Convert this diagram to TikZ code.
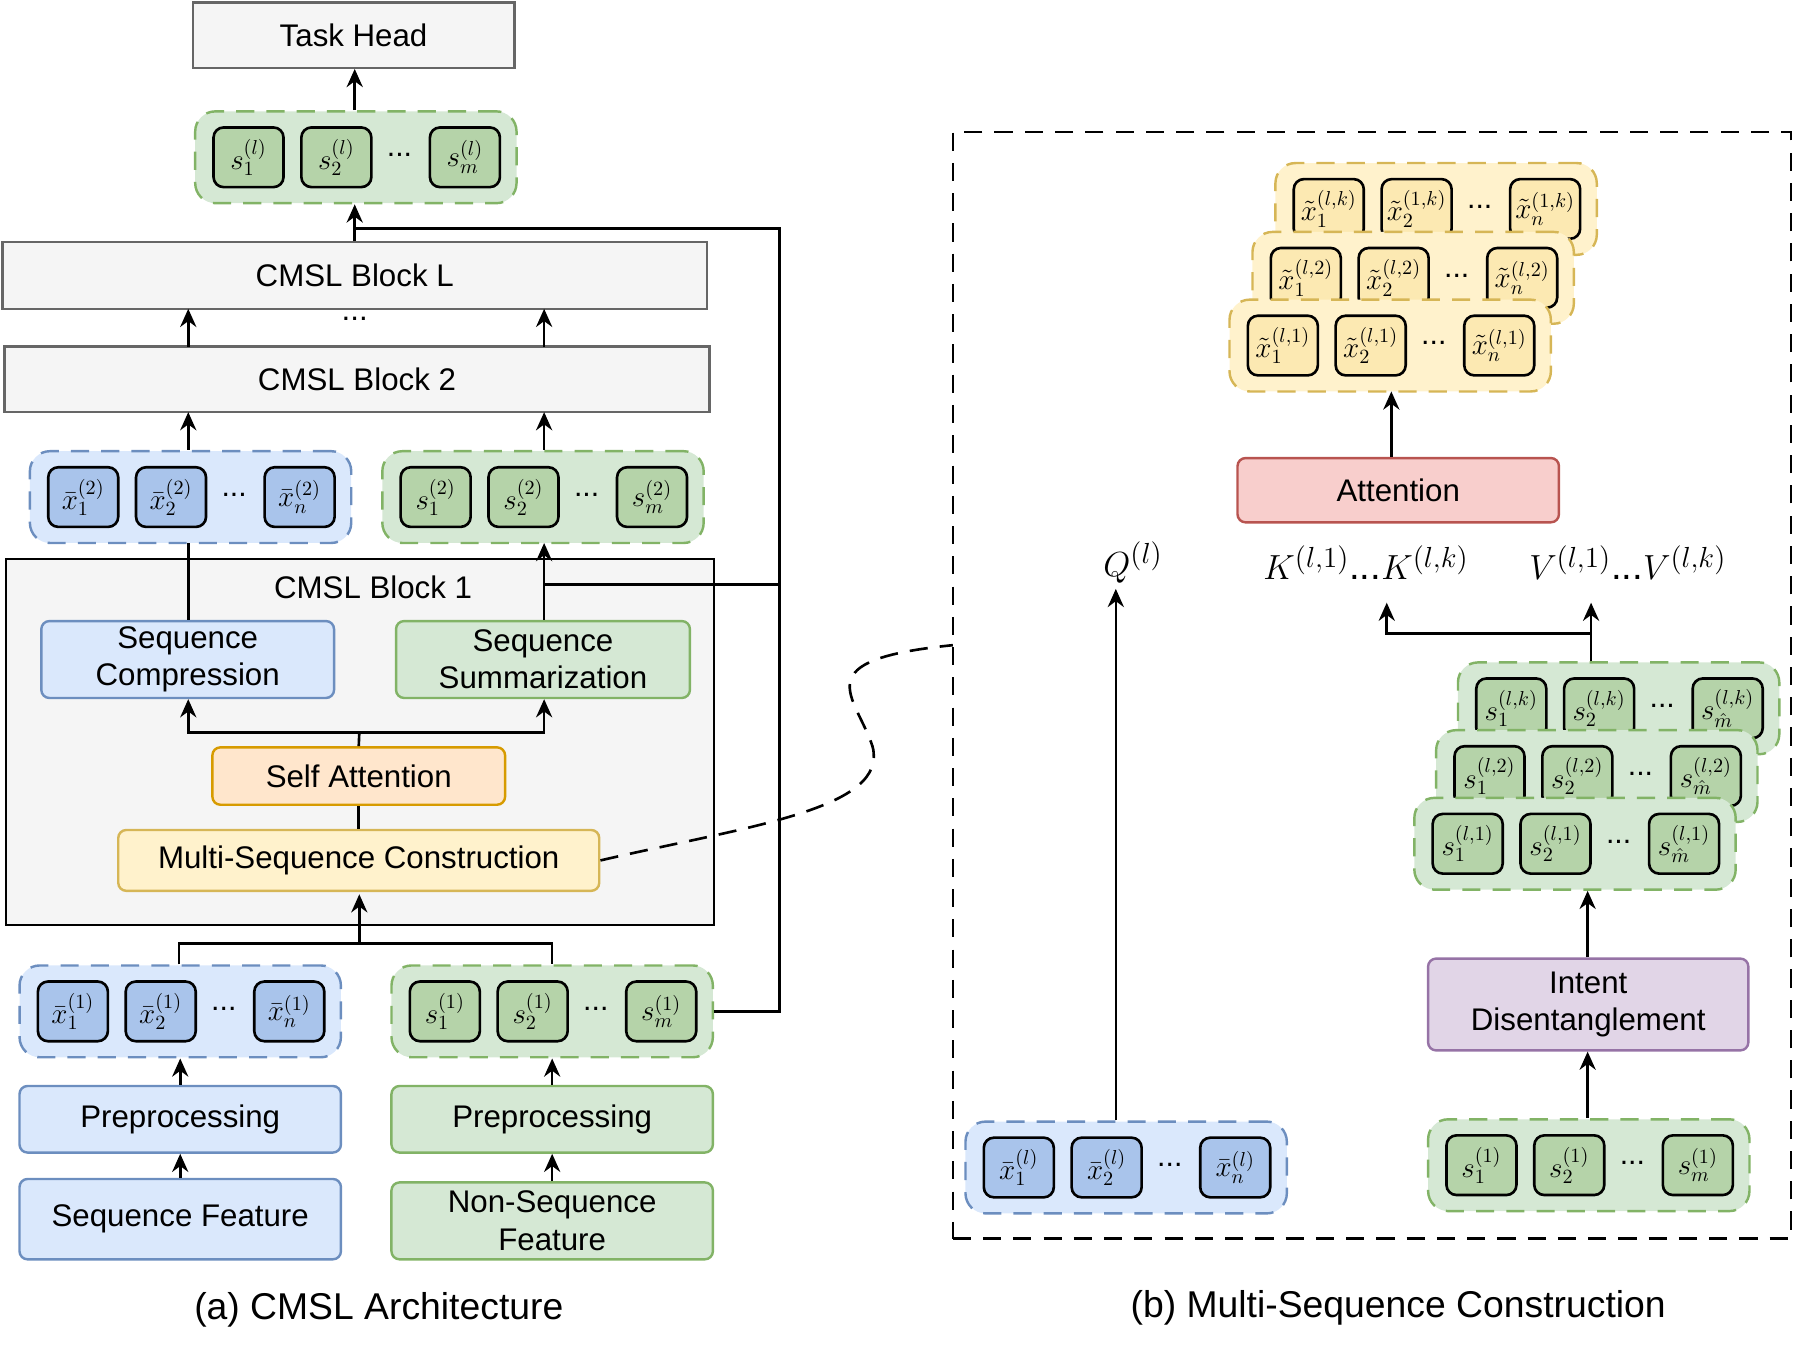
\documentclass[tikz,border=0pt]{standalone}
\usepackage{fontspec}
\setmainfont{Liberation Sans}
\usetikzlibrary{arrows.meta}
\definecolor{gfill}{HTML}{F5F5F5}\definecolor{gdraw}{HTML}{666666}
\definecolor{bfill}{HTML}{DAE8FC}\definecolor{bdraw}{HTML}{6C8EBF}\definecolor{bin}{HTML}{A9C4EB}
\definecolor{grfill}{HTML}{D5E8D4}\definecolor{grdraw}{HTML}{82B366}\definecolor{grin}{HTML}{B5D3A9}
\definecolor{yfill}{HTML}{FFF2CC}\definecolor{ydraw}{HTML}{D6B656}\definecolor{yin}{HTML}{FCE9B2}
\definecolor{ofill}{HTML}{FFE6CC}\definecolor{odraw}{HTML}{D79B00}
\definecolor{rfill}{HTML}{F8CECC}\definecolor{rdraw}{HTML}{B85450}
\definecolor{pfill}{HTML}{E1D5E7}\definecolor{pdraw}{HTML}{9673A6}
\tikzset{
 txt/.style={font=\fontsize{15.5}{18.5}\selectfont, align=center, inner sep=0pt},
 plain/.style={txt, draw=gdraw, fill=gfill, line width=1.2pt},
 bl/.style={txt, draw=bdraw, fill=bfill, line width=1.2pt, rounded corners=4pt},
 gr/.style={txt, draw=grdraw, fill=grfill, line width=1.2pt, rounded corners=4pt},
 ye/.style={txt, draw=ydraw, fill=yfill, line width=1.2pt, rounded corners=4pt},
 ora/.style={txt, draw=odraw, fill=ofill, line width=1.2pt, rounded corners=4pt},
 red/.style={txt, draw=rdraw, fill=rfill, line width=1.2pt, rounded corners=4pt},
 pur/.style={txt, draw=pdraw, fill=pfill, line width=1.2pt, rounded corners=4pt},
 gB/.style={draw=bdraw, fill=bfill, dashed, dash pattern=on 9pt off 6pt, line width=1.2pt, rounded corners=10pt},
 gG/.style={draw=grdraw, fill=grfill, dashed, dash pattern=on 9pt off 6pt, line width=1.2pt, rounded corners=10pt},
 gY/.style={draw=ydraw, fill=yfill, dashed, dash pattern=on 9pt off 6pt, line width=1.2pt, rounded corners=10pt},
 iB/.style={draw=black, fill=bin, line width=1.3pt, rounded corners=5pt, minimum width=1.22cm, minimum height=1.04cm, inner sep=0pt, font=\fontsize{14}{16}\selectfont},
 iG/.style={iB, fill=grin},
 iY/.style={iB, fill=yin},
 arr/.style={line width=1.3pt, -{Stealth[length=9pt,width=8pt]}},
 ln/.style={line width=1.3pt},
 captxt/.style={font=\fontsize{18.5}{22}\selectfont, inner sep=0pt},
 qkv/.style={inner sep=0pt, font=\fontsize{19}{22}\selectfont},
}
\newcommand\bx[7]{\node[#6, minimum width={(#4-#2)*0.02cm}, minimum height={(#5-#3)*0.02cm}] (#1) at ({(#2+#4)/2},{(#3+#5)/2}) {#7};}
\newcommand\grp[8]{%
 \node[#4, minimum width=5.6cm, minimum height=1.6cm, inner sep=0pt] (#1) at ({#2+140},{#3+40}) {};
 \node[#5] (#1a) at ({#2+46.5},{#3+40}) {$#6$};
 \node[#5] (#1b) at ({#2+123},{#3+40}) {$#7$};
 \node[font=\fontsize{15}{18}\selectfont] (#1d) at ({#2+178},{#3+38}) {...};
 \node[#5] (#1c) at ({#2+235},{#3+40}) {$#8$};}
\begin{document}
\begin{tikzpicture}[x=0.02cm,y=-0.02cm]
\useasboundingbox (0,0) rectangle (1568,1178);
% ---------- left ----------
\bx{th}{168}{2}{448}{59}{plain}{Task Head}
\grp{gtop}{170}{97}{gG}{iG}{s_1^{(l)}}{s_2^{(l)}}{s_m^{(l)}}
\bx{bL}{2}{211}{616}{269}{plain}{CMSL Block L}
\node[txt] (vd) at (309,278) {...};
\bx{b2}{4}{302}{618}{359}{plain}{CMSL Block 2}
\grp{bg2}{26}{393}{gB}{iB}{\bar x_1^{(2)}}{\bar x_2^{(2)}}{\bar x_n^{(2)}}
\grp{gg2}{333}{393}{gG}{iG}{s_1^{(2)}}{s_2^{(2)}}{s_m^{(2)}}
\node[draw=black, fill=gfill, line width=1.2pt, minimum width={617*0.02cm}, minimum height={319*0.02cm}] (b1) at (313.5,646.5) {};
\node[txt] (b1t) at (325,512) {CMSL Block 1};
\bx{sc}{36}{541}{291}{608}{bl}{Sequence\\Compression}
\bx{ss}{345}{541}{601}{608}{gr}{Sequence\\Summarization}
\bx{sa}{185}{651}{440}{701}{ora}{Self Attention}
\bx{msc}{103}{723}{522}{776}{ye}{Multi-Sequence Construction}
\grp{bg1}{17}{841}{gB}{iB}{\bar x_1^{(1)}}{\bar x_2^{(1)}}{\bar x_n^{(1)}}
\grp{gg1}{341}{841}{gG}{iG}{s_1^{(1)}}{s_2^{(1)}}{s_m^{(1)}}
\bx{pb}{17}{946}{297}{1004}{bl}{Preprocessing}
\bx{pg}{341}{946}{621}{1004}{gr}{Preprocessing}
\bx{sf}{17}{1027}{297}{1097}{bl}{Sequence Feature}
\bx{nf}{341}{1030}{621}{1097}{gr}{Non-Sequence\\Feature}
\node[captxt] (capa) at (330,1141) {(a) CMSL Architecture};
% arrows left
\draw[arr] (gtop.north -| 309,0) -- (th.south -| 309,0);
\draw[arr] (bL.north -| 309,0) -- (gtop.south -| 309,0);
\draw[arr] (164,302) -- (164,269);
\draw[arr] (474,302) -- (474,269);
\draw[arr] (bg2.north -| 164,0) -- (164,359);
\draw[arr] (gg2.north -| 474,0) -- (474,359);
\draw[ln] (sc.north -| 164,0) -- (164,473);
\draw[arr] (ss.north -| 474,0) -- (474,473);
\draw[ln] (sa.north) -- (313,638);
\draw[arr] (313,638) -| (sc.south -| 164,0);
\draw[arr] (313,638) -| (ss.south -| 474,0);
\draw[ln] (msc.north) -- (sa.south);
\draw[arr] (313,822) -- (313,779);
\draw[ln] (bg1.north -| 156,0) |- (313,822) -| (gg1.north -| 481,0);
\draw[arr] (pb.north) -- (bg1.south);
\draw[arr] (pg.north) -- (gg1.south);
\draw[arr] (sf.north) -- (pb.south);
\draw[arr] (nf.north) -- (pg.south);
\draw[ln] (gg1.east) -- (679,881) -- (679,199) -- (309,199);
\draw[ln] (679,509) -- (474,509);
% ---------- right ----------
\node[draw=black, dashed, dash pattern=on 9pt off 6pt, line width=1.2pt, minimum width={730*0.02cm}, minimum height={964*0.02cm}, inner sep=0pt] (frame) at (1195,597) {};
\coordinate (fr) at (830,562);
\draw[ln, dashed, dash pattern=on 9pt off 6pt] (msc.east) .. controls (650,720) and (775,705) .. (760,650) .. controls (745,605) and (700,575) .. (fr);
\grp{yk}{1111}{142}{gY}{iY}{\tilde x_1^{(l,k)}}{\tilde x_2^{(1,k)}}{\tilde x_n^{(1,k)}}
\grp{y2}{1091}{202}{gY}{iY}{\tilde x_1^{(l,2)}}{\tilde x_2^{(l,2)}}{\tilde x_n^{(l,2)}}
\grp{y1}{1071}{261}{gY}{iY}{\tilde x_1^{(l,1)}}{\tilde x_2^{(l,1)}}{\tilde x_n^{(l,1)}}
\bx{att}{1078}{399}{1358}{455}{red}{Attention}
\node[qkv] (Q) at (987,490) {$Q^{(l)}$};
\node[qkv] (K) at (1190,490) {$K^{(l,1)}$...$K^{(l,k)}$};
\node[qkv] (V) at (1418,490) {$V^{(l,1)}$...$V^{(l,k)}$};
\grp{sk}{1270}{577}{gG}{iG}{s_1^{(l,k)}}{s_2^{(l,k)}}{s_{\hat m}^{(l,k)}}
\grp{s2}{1251}{636}{gG}{iG}{s_1^{(l,2)}}{s_2^{(l,2)}}{s_{\hat m}^{(l,2)}}
\grp{s1}{1232}{695}{gG}{iG}{s_1^{(l,1)}}{s_2^{(l,1)}}{s_{\hat m}^{(l,1)}}
\bx{id}{1244}{835}{1523}{915}{pur}{Intent\\Disentanglement}
\grp{gr0}{1244}{975}{gG}{iG}{s_1^{(1)}}{s_2^{(1)}}{s_m^{(1)}}
\grp{bl0}{841}{977}{gB}{iB}{\bar x_1^{(l)}}{\bar x_2^{(l)}}{\bar x_n^{(l)}}
\node[captxt] (capb) at (1218,1139) {(b) Multi-Sequence Construction};
\draw[arr] (att.north -| 1212,0) -- (1212,341);
\draw[arr] (bl0.north -| 972,0) -- (972,513);
\draw[arr] (sk.north -| 1386,0) -- (1386,525);
\draw[arr] (1386,552) -| (1208,525);
\draw[arr] (id.north -| 1383,0) -- (1383,776);
\draw[arr] (gr0.north -| 1383,0) -- (id.south -| 1383,0);
\end{tikzpicture}
\end{document}
